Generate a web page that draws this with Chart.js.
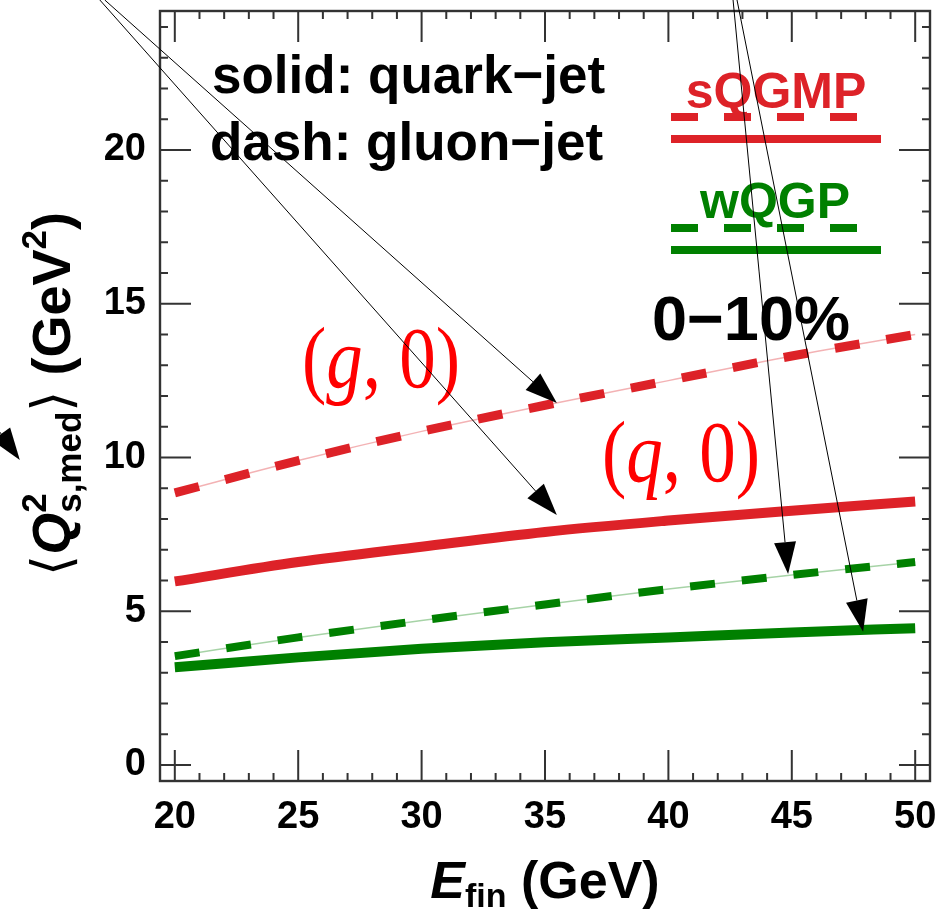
<!DOCTYPE html>
<html>
<head>
<meta charset="utf-8">
<script src="https://cdn.jsdelivr.net/npm/chart.js@4.4.1/dist/chart.umd.min.js"></script>
<style>
  html, body { margin: 0; padding: 0; background: #fff; }
  #wrap { width: 948px; height: 911px; }
</style>
</head>
<body>
<div id="wrap"><canvas id="chart" width="948" height="911"></canvas></div>
<script>
// E_fin (GeV) sample points and <Q^2_s,med> (GeV^2)
const energies = [20, 25, 30, 35, 40, 45, 50];
const sqgmpGluon = [8.85, 9.9, 10.85, 11.7, 12.5, 13.3, 14.0];
const sqgmpQuark = [5.97, 6.6, 7.1, 7.58, 7.95, 8.27, 8.57];
const wqgpGluon = [3.54, 4.15, 4.7, 5.22, 5.72, 6.18, 6.6];
const wqgpQuark = [3.18, 3.5, 3.78, 3.99, 4.15, 4.31, 4.45];

const xTicks = [20, 25, 30, 35, 40, 45, 50];
const yTicks = [0, 5, 10, 15, 20];

// arrows drawn over the plot: [startE, startQ, tipE, tipQ]
const arrows = [
  [17.16, 24.88, 35.48, 11.77],
  [16.96, 24.88, 35.48, 8.13],
  [42.62, 24.88, 44.85, 6.21],
  [42.78, 24.88, 47.89, 4.33],
  [6.66, 17.82, 13.72, 9.92]
];

const RED = "#dd2228";
const GREEN = "#008000";
const SANS = "'Liberation Sans', Arial, sans-serif";

const pts = (ys) => energies.map((e, i) => ({ x: e, y: ys[i] }));

function lineSet(label, data, color, dashed, width) {
  return {
    label: label,
    data: pts(data),
    borderColor: color,
    borderWidth: width,
    borderDash: dashed ? [25, 27] : [],
    borderCapStyle: "butt",
    pointRadius: 0,
    fill: false,
    cubicInterpolationMode: "monotone"
  };
}

// text made of pieces with their own fonts / baseline shifts
function drawRuns(ctx, parts, x, y, align) {
  let total = 0;
  parts.forEach((p) => {
    ctx.font = p.font;
    p.w = ctx.measureText(p.text).width;
    if (!p.noAdvance) total += p.w;
  });
  let cx = align === "center" ? x - total / 2 : x;
  ctx.textAlign = "left";
  ctx.textBaseline = "alphabetic";
  parts.forEach((p) => {
    ctx.font = p.font;
    ctx.fillStyle = p.color || "#000";
    ctx.fillText(p.text, cx, y + (p.dy || 0));
    if (!p.noAdvance) cx += p.w;
  });
}

const decorations = {
  id: "decorations",
  afterDraw(chart) {
    const ctx = chart.ctx;
    const xs = chart.scales.x, ys = chart.scales.y, a = chart.chartArea;
    ctx.save();

    // frame and inward ticks
    ctx.strokeStyle = "#333";
    ctx.lineWidth = 2;
    ctx.beginPath();
    for (let v = 20; v <= 50; v++) {
      const len = v % 5 === 0 ? 31 : 8;
      const px = xs.getPixelForValue(v);
      ctx.moveTo(px, a.bottom); ctx.lineTo(px, a.bottom - len);
      ctx.moveTo(px, a.top); ctx.lineTo(px, a.top + len);
    }
    for (let v = 0; v <= 24; v++) {
      const len = v % 5 === 0 ? 31 : 8;
      const py = ys.getPixelForValue(v);
      ctx.moveTo(a.left, py); ctx.lineTo(a.left + len, py);
      ctx.moveTo(a.right, py); ctx.lineTo(a.right - len, py);
    }
    ctx.stroke();
    ctx.lineWidth = 2.4;
    ctx.strokeRect(a.left, a.top, a.right - a.left, a.bottom - a.top);

    // legend text and keys
    ctx.textAlign = "left";
    ctx.fillStyle = "#000";
    ctx.font = "bold 53px " + SANS;
    ctx.fillText("solid: quark\u2212jet", 212, 93);
    ctx.fillText("dash: gluon\u2212jet", 210, 160);

    ctx.textAlign = "center";
    ctx.font = "bold 50px " + SANS;
    ctx.fillStyle = RED;
    ctx.fillText("sQGMP", 776, 108);
    ctx.fillStyle = GREEN;
    ctx.fillText("wQGP", 775, 218);

    const key = (y, color, dashed) => {
      ctx.strokeStyle = color;
      ctx.lineWidth = 8;
      ctx.setLineDash(dashed ? [27, 26] : []);
      ctx.beginPath(); ctx.moveTo(671, y); ctx.lineTo(881, y); ctx.stroke();
    };
    key(117, RED, true); key(139, RED, false);
    key(228, GREEN, true); key(250, GREEN, false);
    ctx.setLineDash([]);

    ctx.fillStyle = "#000";
    ctx.font = "bold 63px " + SANS;
    ctx.fillText("0\u221210%", 751, 340);

    // (g,0) and (q,0) labels, a little taller than the serif font
    const serif = (s) => s + "px 'Liberation Serif', 'DejaVu Serif', serif";
    const mathLabel = (v, x, y) => {
      ctx.save();
      ctx.translate(x, y);
      ctx.scale(1, 1.18);
      drawRuns(ctx, [
        { text: "(", font: serif("73"), color: "#ff0000" },
        { text: v, font: "italic " + serif("73"), color: "#ff0000" },
        { text: ", 0)", font: serif("73"), color: "#ff0000" }
      ], 0, 0, "left");
      ctx.restore();
    };
    mathLabel("g", 302, 387);
    mathLabel("q", 602, 481);

    // arrows
    ctx.strokeStyle = "#000";
    ctx.fillStyle = "#000";
    ctx.lineWidth = 1;
    arrows.forEach(([e0, q0, e1, q1]) => {
      const x0 = xs.getPixelForValue(e0), y0 = ys.getPixelForValue(q0);
      const x1 = xs.getPixelForValue(e1), y1 = ys.getPixelForValue(q1);
      const L = Math.hypot(x1 - x0, y1 - y0);
      const dx = (x1 - x0) / L, dy = (y1 - y0) / L;
      const bx = x1 - 32 * dx, by = y1 - 32 * dy;
      ctx.beginPath(); ctx.moveTo(x0, y0); ctx.lineTo(bx, by); ctx.stroke();
      ctx.beginPath();
      ctx.moveTo(x1, y1);
      ctx.lineTo(bx - 11 * dy, by + 11 * dx);
      ctx.lineTo(bx + 11 * dy, by - 11 * dx);
      ctx.closePath(); ctx.fill();
    });

    // axis titles
    drawRuns(ctx, [
      { text: "E", font: "italic bold 52px " + SANS },
      { text: "fin", font: "bold 34px " + SANS, dy: 9 },
      { text: " (GeV)", font: "bold 52px " + SANS }
    ], 545, 898, "center");

    ctx.save();
    ctx.translate(70, 394);
    ctx.rotate(-Math.PI / 2);
    drawRuns(ctx, [
      { text: "\u27E8", font: "54px 'DejaVu Sans', sans-serif" },
      { text: "Q", font: "italic bold 54px " + SANS },
      { text: "2", font: "bold 35px " + SANS, dy: -24, noAdvance: true },
      { text: "s,med", font: "bold 35px " + SANS, dy: 11 },
      { text: "\u27E9", font: "54px 'DejaVu Sans', sans-serif" },
      { text: " (GeV", font: "bold 54px " + SANS },
      { text: "2", font: "bold 35px " + SANS, dy: -24 },
      { text: ")", font: "bold 54px " + SANS }
    ], 0, 0, "center");
    ctx.restore();

    ctx.restore();
  }
};

new Chart(document.getElementById("chart"), {
  type: "line",
  data: {
    datasets: [
      lineSet("sQGMP gluon guide", sqgmpGluon, "rgba(221,34,40,0.35)", false, 1.5),
      lineSet("sQGMP gluon-jet", sqgmpGluon, RED, true, 9),
      lineSet("sQGMP quark-jet", sqgmpQuark, RED, false, 10),
      lineSet("wQGP gluon guide", wqgpGluon, "rgba(0,128,0,0.35)", false, 1.5),
      lineSet("wQGP gluon-jet", wqgpGluon, GREEN, true, 8),
      lineSet("wQGP quark-jet", wqgpQuark, GREEN, false, 10)
    ]
  },
  options: {
    responsive: false,
    animation: false,
    devicePixelRatio: 1,
    layout: { padding: { top: 11, right: 18, left: 0, bottom: 0 } },
    plugins: { legend: { display: false }, tooltip: { enabled: false } },
    scales: {
      x: {
        type: "linear",
        min: 19.4,
        max: 50.6,
        afterBuildTicks: (s) => { s.ticks = xTicks.map((v) => ({ value: v })); },
        afterFit: (s) => { s.height = 130; s.paddingLeft = 0; s.paddingRight = 0; },
        grid: { display: false, drawTicks: false },
        border: { display: false },
        ticks: {
          padding: 14,
          color: "#000",
          maxRotation: 0,
          font: { family: SANS, size: 38, weight: "bold" }
        }
      },
      y: {
        type: "linear",
        min: -0.52,
        max: 24.52,
        afterBuildTicks: (s) => { s.ticks = yTicks.map((v) => ({ value: v })); },
        afterFit: (s) => { s.width = 160; s.paddingTop = 0; s.paddingBottom = 0; },
        grid: { display: false, drawTicks: false },
        border: { display: false },
        ticks: {
          padding: 14,
          color: "#000",
          font: { family: SANS, size: 38, weight: "bold" }
        }
      }
    }
  },
  plugins: [decorations]
});
</script>
</body>
</html>
